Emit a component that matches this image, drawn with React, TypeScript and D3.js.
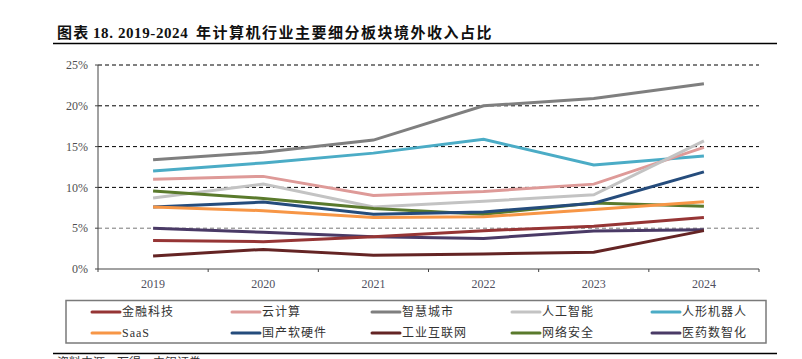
import React from "react";
import * as d3 from "d3";

const years = ["2019", "2020", "2021", "2022", "2023", "2024"];
const yTicks = [0, 0.05, 0.1, 0.15, 0.2, 0.25];

const fintech = [3.5, 3.35, 3.95, 4.7, 5.25, 6.3];
const cloud = [11.0, 11.35, 9.0, 9.5, 10.4, 14.9];
const smartCity = [13.4, 14.3, 15.8, 20.0, 20.9, 22.7];
const ai = [8.7, 10.4, 7.6, 8.3, 9.1, 15.7];
const robot = [12.0, 13.0, 14.2, 15.9, 12.75, 13.85];
const saas = [7.6, 7.15, 6.3, 6.4, 7.3, 8.25];
const domestic = [7.6, 8.2, 6.7, 7.0, 8.05, 11.9];
const industrial = [1.6, 2.4, 1.7, 1.85, 2.05, 4.7];
const security = [9.55, 8.65, 7.4, 6.7, 8.1, 7.7];
const medical = [5.0, 4.5, 3.95, 3.75, 4.65, 4.8];

const seriesNames = ["金融科技", "云计算", "智慧城市", "人工智能", "人形机器人", "SaaS", "国产软硬件", "工业互联网", "网络安全", "医药数智化"];
const seriesValues = [fintech, cloud, smartCity, ai, robot, saas, domestic, industrial, security, medical];
const seriesColors = ["#963535", "#DE9A98", "#7F7F7F", "#C3C3C3", "#4BACC6", "#F79646", "#254C7C", "#642424", "#5A7A2C", "#4A3A66"];

const title1 = "图表";
const title2 = "18. 2019-2024";
const title3 = "年计算机行业主要细分板块境外收入占比";
const sourceText = "资料来源：万得，中银证券";

const SERIF = "'Liberation Serif', 'Times New Roman', serif";
const CJK = "'Liberation Serif', 'Noto Sans CJK SC', serif";

export default function App() {
  const x = d3.scaleBand<string>().domain(years).range([98, 759]);
  const y = d3.scaleLinear().domain([0, 0.25]).range([269, 65]);
  const line = d3
    .line<number>()
    .x((_, i) => (x(years[i]) as number) + x.bandwidth() / 2)
    .y((v) => y(v / 100));

  const drawOrder = [2, 4, 1, 3, 8, 6, 5, 9, 0, 7];
  const tickXs = years.map((yr) => x(yr) as number).concat([x.range()[1]]);

  return (
    <svg width={802} height={359} style={{ position: "absolute", left: 0, top: 0, background: "#fff" }}>
      {/* Title */}
      <text x={57} y={38} fontFamily={CJK} fontWeight="bold" fontSize={15} letterSpacing={1.2} fill="#111">{title1}</text>
      <text x={93} y={38} fontFamily={SERIF} fontWeight="bold" fontSize={15} letterSpacing={0.6} fill="#111">{title2}</text>
      <text x={196} y={38} fontFamily={CJK} fontWeight="bold" fontSize={15} letterSpacing={1.5} fill="#111">{title3}</text>
      <line x1={53} x2={777} y1={43.5} y2={43.5} stroke="#000" strokeWidth={1.5} />

      {/* gridlines */}
      {yTicks.slice(1).map((t) => (
        <line key={t} x1={98} x2={759} y1={y(t)} y2={y(t)} stroke={t === 0.05 ? "#777" : "#000"} strokeWidth={1} strokeDasharray="4,3" />
      ))}
      {/* y axis */}
      <line x1={98} x2={98} y1={y(0.25)} y2={y(0)} stroke="#444" strokeWidth={1} />
      {yTicks.map((t) => (
        <g key={"yt" + t}>
          <line x1={95} x2={98} y1={y(t)} y2={y(t)} stroke="#444" />
          <text x={88} y={y(t)} dy="0.35em" textAnchor="end" fontFamily={SERIF} fontSize={12} fill="#505050">
            {d3.format(".0%")(t)}
          </text>
        </g>
      ))}
      {/* x axis */}
      <line x1={98} x2={759} y1={y(0)} y2={y(0)} stroke="#444" strokeWidth={1.2} />
      {tickXs.map((tx, i) => (
        <line key={"xt" + i} x1={tx} x2={tx} y1={y(0)} y2={y(0) + 3} stroke="#444" />
      ))}
      {years.map((yr) => (
        <text key={yr} x={(x(yr) as number) + x.bandwidth() / 2} y={288} textAnchor="middle" fontFamily={SERIF} fontSize={12} fill="#505060">
          {yr}
        </text>
      ))}

      {/* lines */}
      {drawOrder.map((i) => (
        <path key={seriesNames[i]} d={line(seriesValues[i]) as string} fill="none" stroke={seriesColors[i]} strokeWidth={3} />
      ))}

      {/* legend */}
      <rect x={66} y={300.5} width={700} height={42.5} fill="#fff" stroke="#7a7a7a" strokeWidth={1.5} />
      {seriesNames.map((name, i) => {
        const col = i % 5;
        const row = Math.floor(i / 5);
        const lx = 92 + col * 140;
        const ly = 312 + row * 21;
        return (
          <g key={"lg" + name}>
            <line x1={lx} x2={lx + 28} y1={ly} y2={ly} stroke={seriesColors[i]} strokeWidth={3} strokeLinecap="round" />
            <text x={lx + 30} y={ly} dy="0.36em" fontFamily={CJK} fontSize={12} letterSpacing={1} fill="#333">
              {name}
            </text>
          </g>
        );
      })}

      <line x1={53} x2={777} y1={353.5} y2={353.5} stroke="#000" strokeWidth={1.5} />
      <text x={57} y={367} fontFamily={CJK} fontSize={12} fill="#333">{sourceText}</text>
    </svg>
  );
}
